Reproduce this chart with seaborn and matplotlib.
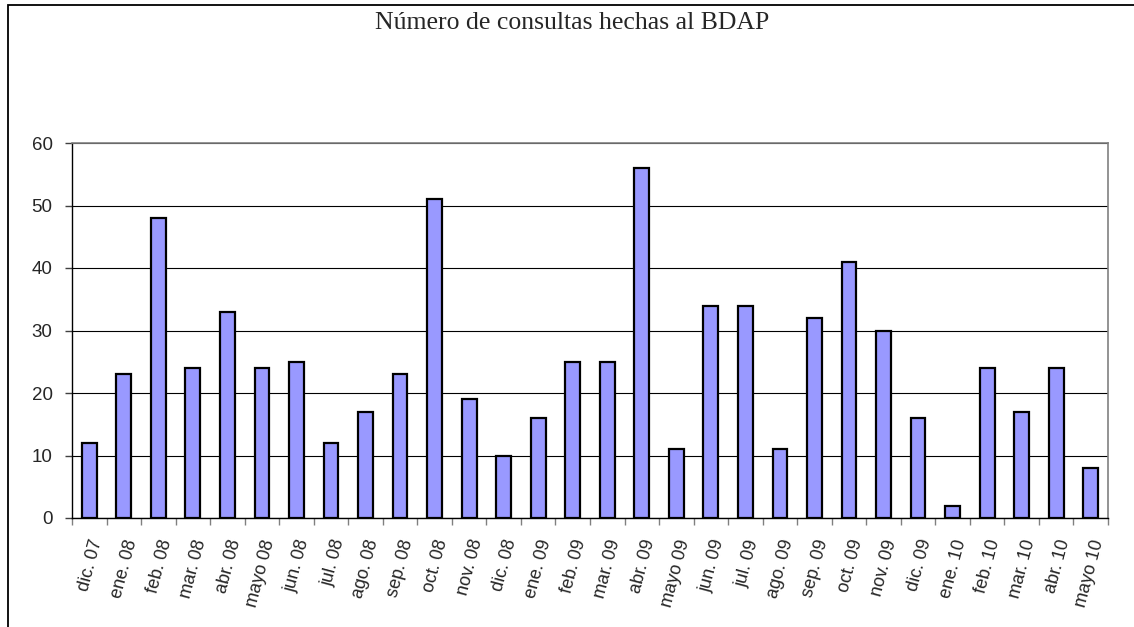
import numpy as np
import pandas as pd
import seaborn as sns
import matplotlib.pyplot as plt
from matplotlib.patches import Rectangle

# Monthly number of queries
months = ["dic. 07", "ene. 08", "feb. 08", "mar. 08", "abr. 08", "mayo 08",
          "jun. 08", "jul. 08", "ago. 08", "sep. 08", "oct. 08", "nov. 08",
          "dic. 08", "ene. 09", "feb. 09", "mar. 09", "abr. 09", "mayo 09",
          "jun. 09", "jul. 09", "ago. 09", "sep. 09", "oct. 09", "nov. 09",
          "dic. 09", "ene. 10", "feb. 10", "mar. 10", "abr. 10", "mayo 10"]
consultas = [12, 23, 48, 24, 33, 24, 25, 12, 17, 23, 51, 19, 10, 16, 25,
             25, 56, 11, 34, 34, 11, 32, 41, 30, 16, 2, 24, 17, 24, 8]
y_ticks = [0, 10, 20, 30, 40, 50, 60]

data = pd.DataFrame({"Mes": months, "Consultas": consultas})

sns.set_style("white")
plt.rcParams["font.family"] = ["Liberation Sans", "DejaVu Sans"]

fig = plt.figure(figsize=(11.34, 6.27), dpi=100)
ax = fig.add_axes([72 / 1134, 1 - 518 / 627, (1108 - 72) / 1134, (518 - 143) / 627])

sns.barplot(data=data, x="Mes", y="Consultas", color="#9999FF",
            edgecolor="black", linewidth=1.6, width=0.43, saturation=1, ax=ax)

ax.set_xlim(-0.5, len(months) - 0.5)
ax.set_ylim(0, 60)
ax.set_yticks(y_ticks)
ax.set_yticklabels([str(v) for v in y_ticks], fontsize=13.5)
ax.grid(axis="y", color="black", linewidth=0.8)
ax.set_axisbelow(True)
ax.set_xlabel("")
ax.set_ylabel("")

# category labels, ticks on boundaries between bars
ax.set_xticks(range(len(months)))
ax.set_xticklabels(months, rotation=75, ha="right", rotation_mode="anchor",
                   fontsize=13)
ax.tick_params(axis="x", which="major", length=0, pad=14)
ax.set_xticks(np.arange(-0.5, len(months)), minor=True)
ax.tick_params(axis="x", which="minor", length=5, width=1, color="#808080",
               direction="out", bottom=True)
ax.tick_params(axis="y", length=5, width=1, color="#404040", direction="out",
               left=True, pad=9)

for side in ["top", "right"]:
    ax.spines[side].set_color("#808080")
    ax.spines[side].set_linewidth(1.2)
for side in ["left", "bottom"]:
    ax.spines[side].set_color("black")
    ax.spines[side].set_linewidth(1.0)

fig.text(572 / 1134, 1 - 23 / 627, "Número de consultas hechas al BDAP",
         family=["Liberation Serif", "DejaVu Serif"], fontsize=18.5,
         ha="center", va="center")

# outer chart border (cut off on right and bottom)
fig.patches.append(Rectangle((8 / 1134, -0.1), 1.2, 1 - 5 / 627 + 0.1,
                             transform=fig.transFigure, fill=False,
                             edgecolor="black", linewidth=1.3))

fig.savefig("out.png", dpi=100)
